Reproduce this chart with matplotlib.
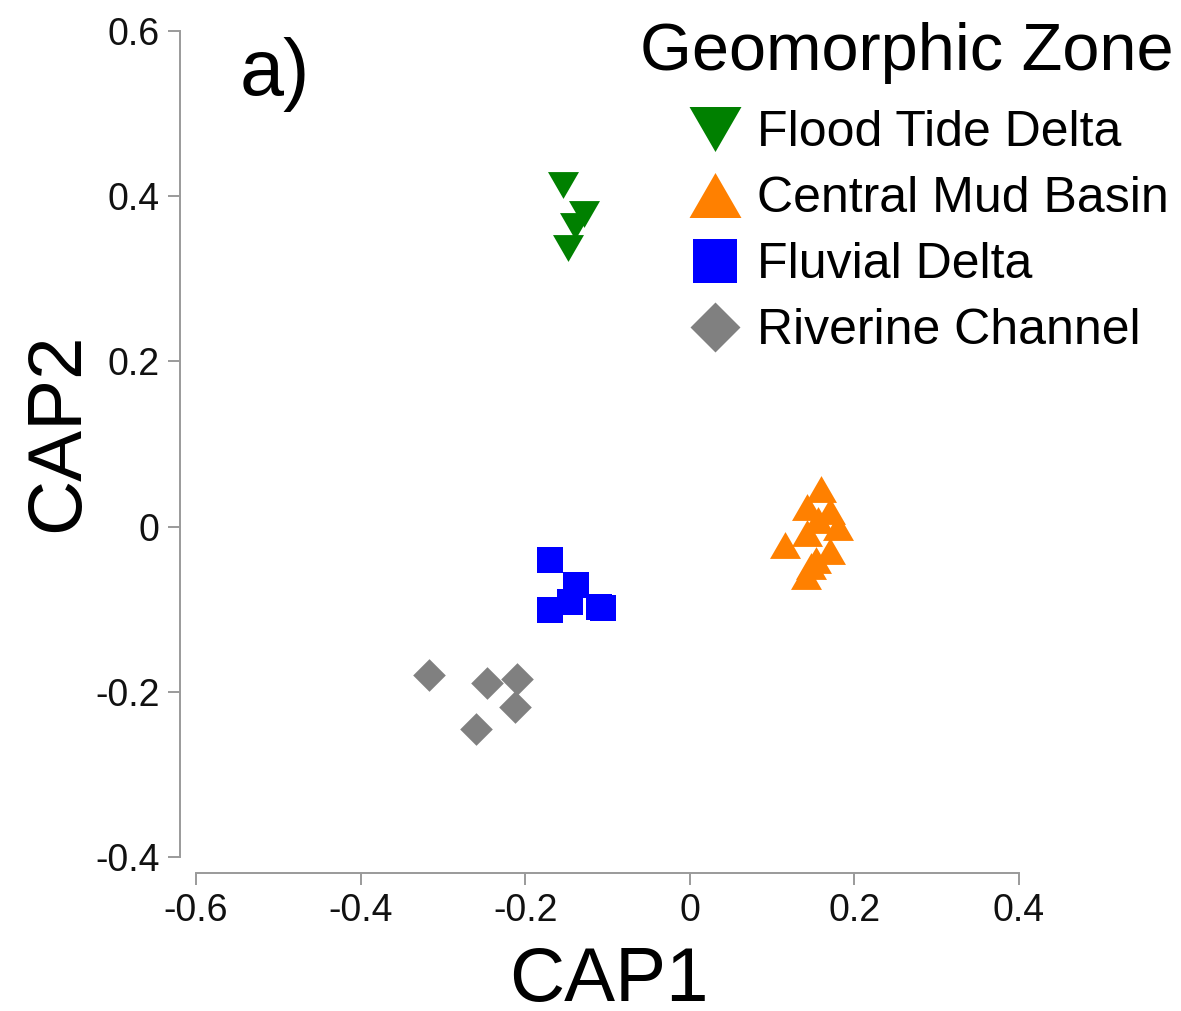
import matplotlib
matplotlib.use("Agg")
import matplotlib.pyplot as plt
from matplotlib.lines import Line2D

plt.rcParams['font.family'] = ['Liberation Sans', 'DejaVu Sans']

# ---- data ----
zones = ["Flood Tide Delta", "Central Mud Basin", "Fluvial Delta", "Riverine Channel"]
legend_title = "Geomorphic Zone"
colors = ["#008000", "#FF8000", "#0000FF", "#808080"]

flood_x = [-0.154, -0.129, -0.139, -0.148]
flood_y = [0.414, 0.378, 0.364, 0.337]

central_x = [0.160, 0.142, 0.170, 0.180, 0.116, 0.142, 0.170, 0.141, 0.147, 0.153, 0.156]
central_y = [0.046, 0.024, 0.019, 0.000, -0.022, -0.008, -0.030, -0.060, -0.048, -0.040, 0.008]

fluvial_x = [-0.170, -0.138, -0.170, -0.145, -0.110, -0.106]
fluvial_y = [-0.041, -0.071, -0.101, -0.091, -0.097, -0.099]

riverine_x = [-0.317, -0.247, -0.210, -0.212, -0.260]
riverine_y = [-0.180, -0.189, -0.184, -0.218, -0.245]

xticks = [-0.6, -0.4, -0.2, 0, 0.2, 0.4]
xticklabels = ["-0.6", "-0.4", "-0.2", "0", "0.2", "0.4"]
yticks = [-0.4, -0.2, 0, 0.2, 0.4, 0.6]
yticklabels = ["-0.4", "-0.2", "0", "0.2", "0.4", "0.6"]

# ---- marker shapes ----
tri_down = [(-1, 0.866), (1, 0.866), (0, -0.866)]
tri_up = [(-1, -0.866), (1, -0.866), (0, 0.866)]
square = [(-1, -1), (1, -1), (1, 1), (-1, 1)]
diamond = [(0, 1), (1, 0), (0, -1), (-1, 0)]
markers = [tri_down, tri_up, square, diamond]
sizes_pt = [22.3, 22.3, 18.7, 23.5]
legend_sizes_pt = [37.4, 37.4, 31.0, 36.0]

fig = plt.figure(figsize=(11.81, 10.11), dpi=100)
ax = fig.add_axes([196 / 1181, 1 - 857 / 1011, 823 / 1181, 826 / 1011])

series = [(flood_x, flood_y), (central_x, central_y), (fluvial_x, fluvial_y), (riverine_x, riverine_y)]
for (xs, ys), c, m, s in zip(series, colors, markers, sizes_pt):
    ax.scatter(xs, ys, marker=m, s=s ** 2, color=c, linewidths=0, zorder=3)

ax.set_xlim(-0.6, 0.4)
ax.set_ylim(-0.4, 0.6)
ax.set_xticks(xticks)
ax.set_xticklabels(xticklabels)
ax.set_yticks(yticks)
ax.set_yticklabels(yticklabels)

spine_col = "#9a9a9a"
for side in ["top", "right"]:
    ax.spines[side].set_visible(False)
for side in ["left", "bottom"]:
    ax.spines[side].set_position(("outward", 11.5))
    ax.spines[side].set_color(spine_col)
    ax.spines[side].set_linewidth(1.4)
ax.tick_params(direction="out", length=8.6, width=1.4, color=spine_col,
               labelsize=27, pad=6, labelcolor="#111111")

ax.set_xlabel("CAP1", fontsize=55)
ax.set_ylabel("CAP2", fontsize=55)
ax.xaxis.label.set_verticalalignment("baseline")
ax.xaxis.set_label_coords((609 - 196) / 823, (857 - 1001) / 826)
ax.yaxis.label.set_verticalalignment("baseline")
ax.yaxis.set_label_coords((78 - 196) / 823, (857 - 432) / 826)

fig.text(240 / 1181, 1 - 95 / 1011, "a)", fontsize=57, va="baseline", ha="left")

# legend title as text, entries as legend
fig.text(640 / 1181, 1 - 70 / 1011, legend_title, fontsize=48, va="baseline", ha="left")
handles = [Line2D([], [], linestyle="none", marker=m, markersize=s, color=c, markeredgewidth=0)
           for m, s, c in zip(markers, legend_sizes_pt, colors)]
leg = ax.legend(handles, zones, fontsize=36,
                frameon=False, loc="upper left",
                bbox_to_anchor=(690 / 1181, 1 - 110 / 1011), bbox_transform=fig.transFigure,
                borderpad=0, handlelength=1.0, handletextpad=0.35, labelspacing=0.40,
                borderaxespad=0)

fig.savefig("out.png", dpi=100)
